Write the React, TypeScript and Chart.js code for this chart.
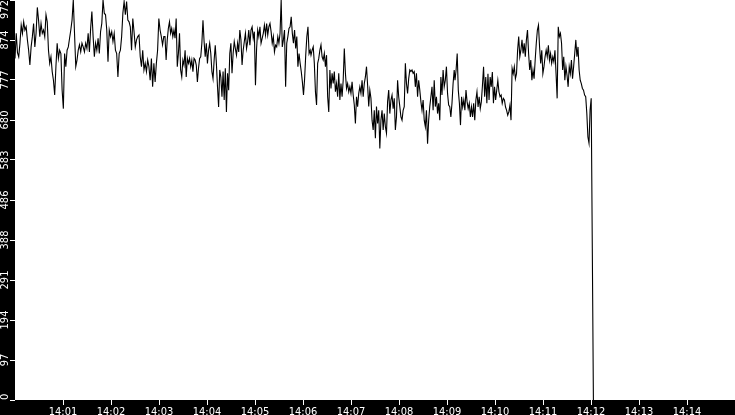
import React, { useEffect, useRef } from 'react';
import Chart from 'chart.js/auto';

// seconds after 14:00 for the x axis
const X_TICKS = [60, 120, 180, 240, 300, 360, 420, 480, 540, 600, 660, 720, 780, 840];
const X_TICK_LABELS = ['14:01', '14:02', '14:03', '14:04', '14:05', '14:06', '14:07', '14:08', '14:09', '14:10', '14:11', '14:12', '14:13', '14:14'];
const Y_TICKS = [0, 97.2, 194.4, 291.6, 388.8, 486, 583.2, 680.4, 777.6, 874.8, 972];
const Y_TICK_LABELS = ['0', '97', '194', '291', '388', '486', '583', '680', '777', '874', '972'];

// readings are split in 4 runs, each with its first/last second
const SPANS = [[0, 186], [187.5, 369], [370, 549], [550, 723]];

const run1 = [
  830, 891, 844, 834, 867, 911, 891, 919, 899, 907,
  875, 850, 814, 858, 883, 915, 858, 891, 954, 923,
  883, 915, 891, 899, 883, 936, 919, 850, 818, 834,
  798, 777, 741, 810, 867, 830, 850, 842, 753, 708,
  842, 810, 850, 858, 879, 899, 923, 972, 891, 810,
  826, 850, 863, 846, 867, 858, 846, 867, 854, 891,
  846, 903, 944, 883, 834, 867, 850, 879, 842, 895,
  915, 972, 940, 936, 899, 822, 899, 883, 895, 871,
  891, 850, 842, 785, 842, 850, 883, 940, 968, 936,
  968, 923, 919, 907, 850, 927, 895, 858, 875, 883,
  887, 834, 810, 850, 802, 818, 798, 826, 810, 777,
  830, 761, 818, 773, 818, 850, 927, 899, 883, 863, 883,
];
const run2 = [
  883, 826, 875, 903, 919, 891, 903, 883, 899, 879, 927,
  810, 842, 891, 802, 785, 826, 814, 850, 785, 830,
  818, 830, 810, 826, 798, 830, 826, 814, 773, 806,
  830, 834, 867, 923, 871, 834, 867, 818, 850, 867,
  842, 798, 781, 826, 862, 818, 761, 712, 802, 785,
  737, 798, 729, 806, 700, 794, 753, 842, 867, 794,
  842, 871, 854, 838, 867, 846, 899, 875, 814, 850,
  871, 891, 854, 871, 899, 862, 899, 907, 879, 895,
  765, 854, 899, 883, 907, 867, 879, 891, 911, 887,
  915, 887, 907, 915, 895, 867, 883, 846, 862, 858,
  883, 867, 891, 972, 858, 875, 899, 761, 867, 883,
  903, 907, 931, 891, 867, 899, 854, 883, 810, 842,
  818, 798, 773, 741, 781, 838, 883, 907, 842, 850,
];
const run3 = [
  838, 850, 858, 818, 749, 717, 818, 830, 850, 863,
  834, 826, 842, 810, 838, 737, 700, 802, 757, 794,
  769, 798, 749, 769, 737, 794, 729, 769, 737, 777,
  854, 794, 757, 769, 749, 761, 745, 773, 741, 717,
  672, 737, 713, 745, 761, 745, 777, 737, 769, 785,
  810, 765, 713, 753, 733, 680, 656, 704, 636, 713,
  672, 704, 611, 680, 704, 656, 696, 664, 648, 725,
  753, 696, 729, 741, 708, 733, 656, 688, 777, 737,
  713, 688, 680, 704, 713, 818, 769, 745, 781, 802,
  798, 802, 794, 798, 761, 794, 737, 777, 753, 725,
  704, 729, 680, 664, 704, 623, 680, 713, 737, 761,
  704, 777, 713, 737, 696, 721, 680, 785, 741, 802,
  761, 777, 810, 745, 717, 713, 688, 721, 769, 802,
];
const run4 = [
  777, 802, 842, 753, 721, 668, 737, 712, 729, 704,
  753, 725, 708, 721, 688, 712, 688, 721, 680, 729,
  749, 712, 737, 708, 725, 765, 810, 737, 785, 721,
  793, 729, 785, 761, 797, 721, 761, 729, 753, 777,
  749, 737, 741, 721, 733, 729, 712, 704, 692, 700,
  716, 680, 806, 793, 810, 781, 793, 850, 883, 834,
  850, 875, 842, 867, 834, 875, 899, 842, 802, 826,
  777, 802, 781, 826, 867, 899, 911, 858, 818, 850,
  793, 810, 834, 850, 834, 862, 826, 842, 818, 834,
  822, 850, 793, 733, 907, 883, 891, 867, 802, 834,
  777, 810, 789, 761, 810, 793, 826, 781, 810, 842,
  875, 834, 858, 802, 777, 769, 757, 753, 741, 737,
  697, 639, 624, 705, 733, 369, 0,
];
const RUNS = [run1, run2, run3, run4];

const FONT_FAMILY = "'Liberation Sans Narrow', 'DejaVu Sans Condensed', 'Liberation Sans', sans-serif";
const FONT_SIZE = 11;

const points = RUNS.flatMap((vals, r) => {
  const [a, b] = SPANS[r];
  return vals.map((v, i) => ({ x: a + (i * (b - a)) / (vals.length - 1), y: v }));
});

const plotBg = {
  id: 'plotBg',
  beforeDraw(chart: any) {
    const { ctx, chartArea: ca } = chart;
    ctx.save();
    ctx.fillStyle = '#fff';
    ctx.fillRect(ca.left, ca.top, ca.right - ca.left, ca.bottom - ca.top);
    ctx.restore();
  },
};

// y labels are turned on their side and centred on the tick
const yLabels = {
  id: 'yLabels',
  afterDraw(chart: any) {
    const { ctx, chartArea: ca } = chart;
    const y = chart.scales.y;
    ctx.save();
    ctx.font = `${FONT_SIZE}px ${FONT_FAMILY}`;
    ctx.fillStyle = '#fff';
    ctx.textAlign = 'center';
    ctx.textBaseline = 'middle';
    Y_TICKS.forEach((v, i) => {
      const label = Y_TICK_LABELS[i];
      const half = ctx.measureText(label).width / 2;
      let py = y.getPixelForValue(v);
      py = Math.min(Math.max(py, ca.top + half), ca.bottom - half);
      ctx.save();
      ctx.translate(y.right - 9.5, py);
      ctx.rotate(-Math.PI / 2);
      ctx.fillText(label, 0, 0);
      ctx.restore();
    });
    ctx.restore();
  },
};

const App = () => {
  const chartRef = useRef<HTMLCanvasElement>(null);

  useEffect(() => {
    document.body.style.margin = '0';
    if (!chartRef.current) return;
    const chart = new Chart(chartRef.current, {
      type: 'line',
      data: {
        datasets: [{
          data: points,
          borderColor: '#000',
          borderWidth: 1.1,
          pointRadius: 0,
          tension: 0,
          fill: false,
        }],
      },
      options: {
        animation: false,
        responsive: false,
        devicePixelRatio: 1,
        layout: { padding: 0 },
        plugins: { legend: { display: false }, tooltip: { enabled: false } },
        scales: {
          x: {
            type: 'linear',
            min: 0,
            max: 900,
            afterBuildTicks: (s: any) => { s.ticks = X_TICKS.map((v) => ({ value: v })); },
            afterFit: (s: any) => { s.height = 15; },
            border: { display: false },
            grid: { drawOnChartArea: false, color: '#fff', tickLength: 5 },
            ticks: {
              color: '#fff',
              padding: 1,
              maxRotation: 0,
              autoSkip: false,
              font: { family: FONT_FAMILY, size: FONT_SIZE },
              callback: (_v: any, i: number) => X_TICK_LABELS[i],
            },
          },
          y: {
            min: 0,
            max: 972,
            afterBuildTicks: (s: any) => { s.ticks = Y_TICKS.map((v) => ({ value: v })); },
            afterFit: (s: any) => { s.width = 15; },
            border: { display: false },
            grid: { drawOnChartArea: false, color: '#fff', tickLength: 5 },
            ticks: { display: false },
          },
        },
      },
      plugins: [plotBg, yLabels],
    });
    return () => {
      chart.destroy();
    };
  }, []);

  return (
    <div style={{ width: 735, height: 415, background: '#000' }}>
      <canvas ref={chartRef} width={735} height={415}></canvas>
    </div>
  );
};

export default App;
